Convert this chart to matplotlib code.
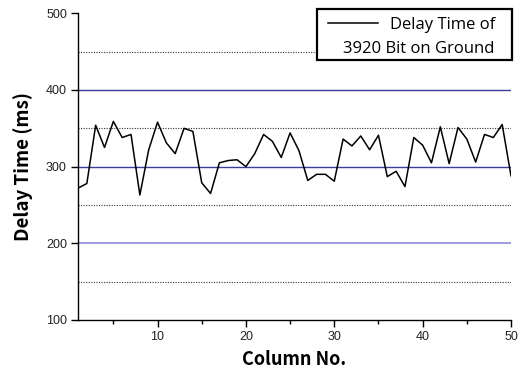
import matplotlib.pyplot as plt
from matplotlib.lines import Line2D
from matplotlib.patches import Rectangle
from matplotlib.ticker import MultipleLocator

# delay per column, 50 samples
columns = list(range(1, 51))
delay_ms = [272, 278, 354, 325, 359, 338, 342, 263, 322, 358,
            331, 317, 350, 346, 279, 265, 305, 308, 309, 300,
            317, 342, 333, 312, 344, 321, 282, 290, 290, 281,
            336, 327, 340, 322, 341, 287, 294, 274, 338, 328,
            305, 352, 304, 351, 336, 306, 342, 338, 355, 288]

solid_levels = [200, 300, 400]
dotted_levels = [150, 250, 350, 450]
legend_lines = ["Delay Time of", "3920 Bit on Ground"]

W, H = 526, 375
fig = plt.figure(figsize=(W / 100, H / 100), dpi=100)
ax = fig.add_axes([0.1483, 0.1467, 0.8232, 0.8178])

for lv in solid_levels:
    col = "#9d9de0" if lv == 200 else "#3c3c9c"
    lw = 1.4 if lv == 200 else 1.0
    ax.axhline(lv, color=col, lw=lw, zorder=1)
for lv in dotted_levels:
    ax.axhline(lv, color="#333333", lw=0.8, ls=(0, (1.0, 1.3)), zorder=1)

ax.plot(columns, delay_ms, color="black", lw=1.1, zorder=3)

ax.set_xlim(1, 50)
ax.set_ylim(100, 500)
ax.xaxis.set_major_locator(MultipleLocator(10))
ax.xaxis.set_minor_locator(MultipleLocator(5))
ax.yaxis.set_major_locator(MultipleLocator(100))
ax.spines["top"].set_visible(False)
ax.spines["right"].set_visible(False)
for s in ("left", "bottom"):
    ax.spines[s].set_linewidth(1.0)
ax.tick_params(axis="both", which="major", direction="out", length=5, width=1,
               labelsize=9, pad=3)
ax.tick_params(axis="x", which="minor", direction="out", length=3, width=1)
for lab in ax.get_xticklabels() + ax.get_yticklabels():
    lab.set_fontfamily("Liberation Sans")
    lab.set_color("#222222")

ax.set_xlabel("Column No.", fontsize=13, fontweight="bold",
              family=["Noto Sans CJK KR", "DejaVu Sans"], labelpad=5)
ax.set_ylabel("Delay Time (ms)", fontsize=13.5, fontweight="bold",
              family=["Noto Sans CJK KR", "DejaVu Sans"], labelpad=9)

# legend box drawn by hand in figure pixels (origin top left)
def fx(px):
    return px / W

def fy(py):
    return 1 - py / H

box = Rectangle((fx(317), fy(60)), fx(512) - fx(317), fy(9) - fy(60),
                transform=fig.transFigure, facecolor="white", edgecolor="black",
                linewidth=1.6, zorder=5)
fig.patches.append(box)
fig.add_artist(Line2D([fx(328), fx(378)], [fy(23), fy(23)],
                      transform=fig.transFigure, color="black", lw=1.1, zorder=6))
fig.text(fx(495), fy(23), legend_lines[0], ha="right", va="center_baseline",
         fontsize=12, family=["Open Sans", "DejaVu Sans"], zorder=6)
fig.text(fx(494), fy(47), legend_lines[1], ha="right", va="center_baseline",
         fontsize=12, family=["Open Sans", "DejaVu Sans"], zorder=6)

fig.savefig("out.png", dpi=100)
